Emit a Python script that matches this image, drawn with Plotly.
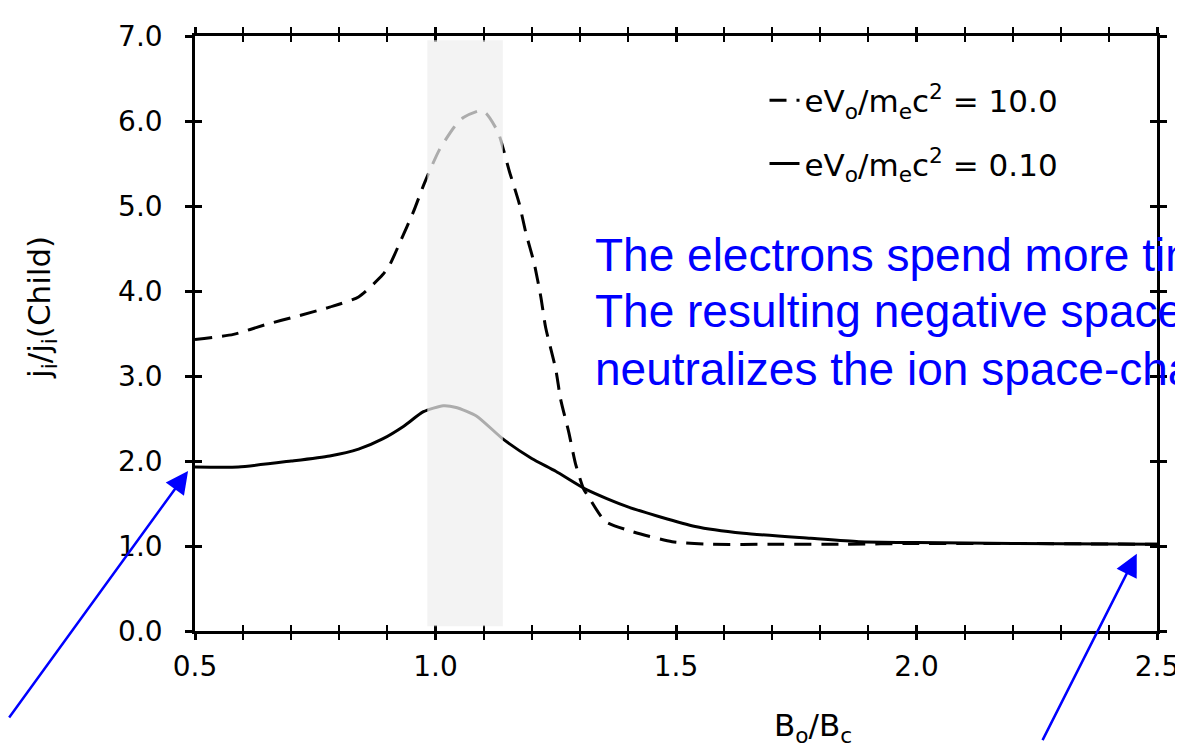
import plotly.graph_objects as go

# ---- data ----
x_dash = [0.50, 0.58, 0.65, 0.71, 0.78, 0.84, 0.89, 0.905, 0.926, 0.954, 0.977, 1.008, 1.039, 1.058,
          1.091, 1.105, 1.130, 1.140, 1.153, 1.174, 1.188, 1.205, 1.219, 1.229, 1.250, 1.260, 1.277,
          1.291, 1.308, 1.318, 1.353, 1.409, 1.492, 1.574, 1.70, 1.85, 2.00, 2.20, 2.50]
y_dash = [3.43, 3.49, 3.61, 3.70, 3.81, 3.93, 4.19, 4.31, 4.57, 4.93, 5.27, 5.66, 5.93, 6.04,
          6.12, 6.09, 5.87, 5.69, 5.42, 5.03, 4.68, 4.33, 3.93, 3.57, 3.08, 2.73, 2.34,
          1.97, 1.67, 1.58, 1.29, 1.17, 1.05, 1.02, 1.02, 1.02, 1.03, 1.03, 1.02]

x_solid = [0.50, 0.59, 0.70, 0.78, 0.84, 0.89, 0.934, 0.975, 1.016, 1.043, 1.085, 1.14, 1.20,
           1.25, 1.315, 1.40, 1.54, 1.64, 1.78, 1.88, 2.00, 2.20, 2.50]
y_solid = [1.93, 1.93, 2.00, 2.06, 2.14, 2.26, 2.41, 2.58, 2.65, 2.63, 2.53, 2.26, 2.03,
           1.88, 1.66, 1.46, 1.23, 1.15, 1.09, 1.05, 1.04, 1.03, 1.02]

x_ticks = [0.5, 1.0, 1.5, 2.0, 2.5]
y_ticks = [0, 1, 2, 3, 4, 5, 6, 7]

name_dash = "eV<sub>o</sub>/m<sub>e</sub>c<sup>2</sup> = 10.0"
name_solid = "eV<sub>o</sub>/m<sub>e</sub>c<sup>2</sup> = 0.10"

note_lines = ["The electrons spend more time",
              "The resulting negative space-charge",
              "neutralizes the ion space-charge"]
note_y = [0.632, 0.537, 0.441]

FONT = "DejaVu Sans"

fig = go.Figure()
fig.add_trace(go.Scatter(x=x_dash, y=y_dash, mode="lines", name=name_dash,
                         line=dict(color="black", width=3, dash="17px,10px", shape="spline", smoothing=0.6),
                         legendgroup="a"))
fig.add_trace(go.Scatter(x=x_solid, y=y_solid, mode="lines", name=name_solid,
                         line=dict(color="black", width=3, shape="spline", smoothing=0.6),
                         legendgroup="b"))
# empty trace to activate the overlay axes (inside ticks -> crossing ticks)
fig.add_trace(go.Scatter(x=[], y=[], xaxis="x2", yaxis="y2", showlegend=False, hoverinfo="skip"))

axis_common = dict(showgrid=False, zeroline=False, linecolor="black", tickcolor="black")

fig.update_layout(
    width=1183, height=749,
    margin=dict(l=187, r=28, t=25, b=126),
    paper_bgcolor="white", plot_bgcolor="white",
    font=dict(family=FONT, color="black"),
    xaxis=dict(range=[0.5, 2.5], tickvals=x_ticks, tickformat=".1f", ticks="outside", ticklen=6,
               tickwidth=2.5, showline=True, linewidth=2.5, mirror="ticks",
               minor=dict(dtick=0.1, ticks="outside", ticklen=6, tickwidth=2, tickcolor="black"),
               tickfont=dict(family=FONT, size=28), ticklabelstandoff=3, **axis_common),
    yaxis=dict(range=[0, 7], tickvals=y_ticks, tickformat=".1f", ticks="outside", ticklen=7,
               tickwidth=2.5, showline=True, linewidth=2.5, mirror="ticks",
               tickfont=dict(family=FONT, size=28), ticklabelstandoff=17, **axis_common),
    xaxis2=dict(range=[0.5, 2.5], overlaying="x", anchor="y2", tickvals=x_ticks, ticks="inside",
                ticklen=6, tickwidth=2.5, showticklabels=False, mirror="ticks", showline=False,
                minor=dict(dtick=0.1, ticks="inside", ticklen=6, tickwidth=2, tickcolor="black"),
                **axis_common),
    yaxis2=dict(range=[0, 7], overlaying="y", anchor="x2", tickvals=y_ticks, ticks="inside",
                ticklen=7, tickwidth=2.5, showticklabels=False, mirror="ticks", showline=False,
                **axis_common),
    legend=dict(x=0.592, y=0.937, xanchor="left", yanchor="top", bgcolor="rgba(0,0,0,0)",
                font=dict(family=FONT, size=31), tracegroupgap=20),
    showlegend=True,
)

# shaded band drawn on top (makes the curves look grey inside it)
fig.add_shape(type="rect", xref="x", yref="paper", x0=0.983, x1=1.14, y0=0.008, y1=0.993,
              fillcolor="#eeeeee", opacity=0.72, line=dict(width=0), layer="above")

# axis titles
fig.add_annotation(text="j<sub>i</sub>/j<sub>i</sub>(Child)", xref="paper", yref="paper",
                   x=-0.159, y=0.543, xanchor="center", yanchor="middle", textangle=-90,
                   showarrow=False, font=dict(family=FONT, size=31, color="black"))
fig.add_annotation(text="B<sub>o</sub>/B<sub>c</sub>", xref="paper", yref="paper",
                   x=0.6425, y=-0.163, xanchor="center", yanchor="middle", showarrow=False,
                   font=dict(family=FONT, size=31, color="black"))

# blue note, one annotation per line
for line_text, ly in zip(note_lines, note_y):
    fig.add_annotation(text=line_text, xref="paper", yref="paper",
                       x=0.414, y=ly, xanchor="left", yanchor="middle", align="left",
                       showarrow=False, font=dict(family="Liberation Sans", size=46, color="#0000ff"))

# blue arrows
fig.add_annotation(text="", xref="paper", yref="paper", x=-0.0072, y=0.269, ax=-180, ay=248,
                   showarrow=True, arrowhead=2, arrowsize=1.8, arrowwidth=2.5, arrowcolor="#0000ff",
                   standoff=0)
fig.add_annotation(text="", xref="paper", yref="paper", x=0.979, y=0.130, ax=-95, ay=188,
                   showarrow=True, arrowhead=2, arrowsize=1.8, arrowwidth=2.5, arrowcolor="#0000ff",
                   standoff=0)

fig.write_html("out.html")
